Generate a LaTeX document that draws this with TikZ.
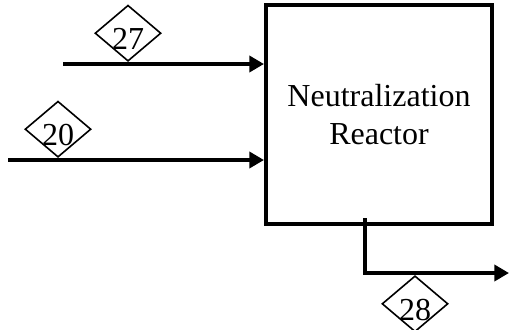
\documentclass[tikz,border=0pt]{standalone}
\usepackage{fontspec}
\setmainfont{Liberation Serif}
\usetikzlibrary{arrows.meta, positioning, shapes.geometric}

\newcommand{\snum}[1]{\raisebox{-4.5pt}{#1}}

\tikzset{
  stream/.style={line width=3.2pt, -{Triangle[length=11pt, width=12pt]}},
  tag/.style={draw, diamond, line width=1.2pt, inner sep=0pt,
    minimum width=49.5pt, minimum height=42pt, shape aspect=1.18,
    font=\fontsize{24}{24}\selectfont, text height=16pt, text depth=0pt}
}

\begin{document}
\begin{tikzpicture}[x=0.75pt, y=-0.75pt]
  \useasboundingbox (0,0) rectangle (509,329);
  \node[draw, line width=3pt, minimum width=169.5pt, minimum height=164pt,
        align=center, font=\fontsize{24}{29}\selectfont] (reactor) at (379,114.5)
        {Neutralization\\Reactor};
  % feeds
  \coordinate (in27) at (63,64);
  \coordinate (in20) at (8,160);
  \draw[stream] (in27) -- (in27 -| reactor.west);
  \draw[stream] (in20) -- (in20 -| reactor.west);
  % product
  \coordinate (out) at (365,218);
  \coordinate (prod) at (509,273);
  \draw[stream] (out) |- (prod);
  % stream numbers
  \node[tag, anchor=south] (s27) at (128,62) {\snum{27}};
  \node[tag, anchor=south] (s20) at (58,158) {\snum{20}};
  \node[tag, anchor=north] (s28) at (415,275) {\snum{28}};
\end{tikzpicture}
\end{document}
